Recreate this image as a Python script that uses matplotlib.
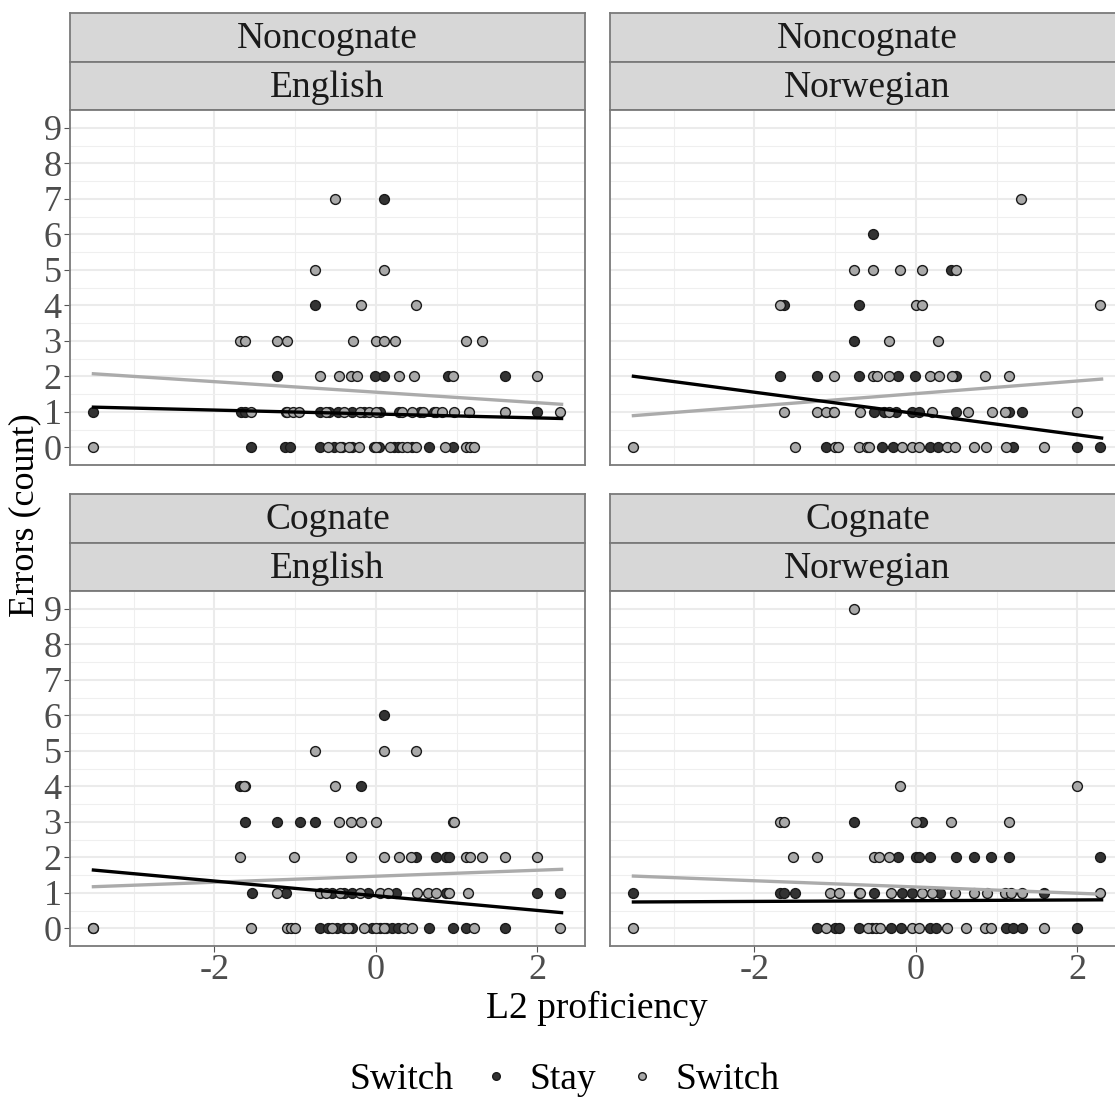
#!/usr/bin/env python3

import matplotlib
matplotlib.use("Agg")
import matplotlib.pyplot as plt
from matplotlib.lines import Line2D

plt.rcParams["font.family"] = ["Liberation Serif", "DejaVu Serif"]
plt.rcParams["axes.unicode_minus"] = False

# Errors per participant by L2 proficiency, split by trial type (Stay / Switch).
# Noncognate, English
nc_en_stay_x = [-1.55, -1.13, -1.06, -0.69, -0.52, -0.42, -0.30, -0.03, 0.04, 0.22, 0.27, 0.45, 0.66, 0.95,
                -3.5, -1.67, -1.62, -1.12, -0.69, -0.58, -0.47, -0.30, -0.15, 0.05, 0.28, 0.55, 0.72, 2.0,
                -1.23, -0.01, 0.10, 0.89, 1.60,
                -0.76,
                0.10]
nc_en_stay_y = [0] * 14 + [1] * 14 + [2] * 5 + [4] + [7]
nc_en_switch_x = [-3.5, -0.60, -0.45, -0.33, -0.21, 0.0, 0.18, 0.32, 0.38, 0.50, 0.85, 1.12, 1.17, 1.22,
                  -1.55, -1.10, -1.03, -0.95, -0.62, -0.40, -0.20, -0.08, 0.0, 0.32, 0.45, 0.58, 0.75, 0.82,
                  0.97, 1.15, 1.60, 2.28,
                  -0.69, -0.46, -0.31, -0.24, 0.28, 0.47, 0.95, 2.0,
                  -1.68, -1.62, -1.23, -1.10, -0.28, 0.0, 0.10, 0.24, 1.11, 1.32,
                  -0.18, 0.50,
                  -0.76, 0.10,
                  -0.51]
nc_en_switch_y = [0] * 14 + [1] * 18 + [2] * 8 + [3] * 10 + [4] * 2 + [5] * 2 + [7]

# Noncognate, Norwegian
nc_no_stay_x = [-1.11, -0.42, -0.29, 0.18, 0.27, 1.20, 1.99, 2.28,
                -1.03, -0.52, -0.40, -0.25, -0.05, 0.04, 0.50, 1.15, 1.31,
                -1.69, -1.23, -0.70, -0.22, -0.01, 0.50,
                -0.77,
                -1.63, -0.70,
                0.43,
                -0.53]
nc_no_stay_y = [0] * 8 + [1] * 9 + [2] * 6 + [3] + [4] * 2 + [5] + [6]
nc_no_switch_x = [-3.5, -1.50, -1.0, -0.96, -0.71, -0.61, -0.58, -0.17, -0.05, 0.04, 0.39, 0.48, 0.72, 0.87,
                  1.11, 1.59,
                  -1.63, -1.23, -1.11, -1.01, -0.69, -0.33, 0.20, 0.64, 0.94, 1.10, 2.0,
                  -1.01, -0.53, -0.48, -0.33, 0.18, 0.28, 0.45, 0.85, 1.15,
                  -0.33, 0.27,
                  -1.69, 0.0, 0.08, 2.28,
                  -0.77, -0.53, -0.20, 0.08, 0.50,
                  1.30]
nc_no_switch_y = [0] * 16 + [1] * 11 + [2] * 9 + [3] * 2 + [4] * 4 + [5] * 5 + [7]

# Cognate, English
co_en_stay_x = [-3.5, -0.69, -0.60, -0.48, -0.40, -0.30, -0.05, 0.05, 0.12, 0.20, 0.27, 0.66, 0.95, 1.12, 1.60,
                -1.54, -1.11, -0.55, -0.40, -0.30, -0.10, 0.25, 0.87, 2.0, 2.28,
                0.50, 0.75, 0.87, 0.91,
                -1.62, -1.23, -0.94, -0.76,
                -1.68, -1.62, -0.18,
                0.10]
co_en_stay_y = [0] * 15 + [1] * 10 + [2] * 4 + [3] * 4 + [4] * 3 + [6]
co_en_switch_x = [-3.5, -1.55, -1.10, -1.05, -1.0, -0.55, -0.35, -0.15, 0.0, 0.10, 0.35, 0.45, 1.22, 2.28,
                  -1.23, -0.69, -0.62, -0.45, -0.20, 0.05, 0.15, 0.51, 0.64, 0.75, 0.90, 1.14,
                  -1.68, -1.02, -0.31, 0.10, 0.28, 0.43, 1.12, 1.16, 1.32, 1.60, 2.0,
                  -0.46, -0.31, -0.19, 0.0, 0.95, 0.97,
                  -1.63, -0.51,
                  -0.76, 0.10, 0.50]
co_en_switch_y = [0] * 14 + [1] * 12 + [2] * 11 + [3] * 6 + [4] * 2 + [5] * 3

# Cognate, Norwegian
co_no_stay_x = [-1.23, -1.0, -0.95, -0.71, -0.55, -0.31, -0.19, 0.18, 0.25, 1.11, 1.20, 1.31, 2.0,
                -3.5, -1.69, -1.63, -1.50, -0.52, -0.17, -0.05, 0.30, 1.59,
                -0.22, 0.0, 0.04, 0.18, 0.50, 0.72, 0.93, 1.15, 2.28,
                -0.77, 0.08]
co_no_stay_y = [0] * 13 + [1] * 9 + [2] * 9 + [3] * 2
co_no_switch_x = [-3.5, -1.11, -0.60, -0.50, -0.45, -0.05, 0.04, 0.39, 0.62, 0.85, 0.93, 1.59,
                  -1.07, -0.95, -0.70, -0.69, -0.31, 0.08, 0.20, 0.48, 0.72, 0.88, 1.10, 1.18, 1.31, 2.28,
                  -1.52, -1.23, -0.52, -0.46, -0.33,
                  -1.69, -1.63, 0.0, 0.43, 1.15,
                  -0.20, 2.0,
                  -0.77]
co_no_switch_y = [0] * 12 + [1] * 14 + [2] * 5 + [3] * 5 + [4] * 2 + [9]

# Linear fits, evaluated at the ends of the proficiency range
fit_x = [-3.5, 2.3]
nc_en_fit = {"Stay": [1.13, 0.81], "Switch": [2.07, 1.21]}
nc_no_fit = {"Stay": [2.00, 0.26], "Switch": [0.89, 1.92]}
co_en_fit = {"Stay": [1.64, 0.44], "Switch": [1.17, 1.66]}
co_no_fit = {"Stay": [0.74, 0.80], "Switch": [1.47, 0.96]}

panels = [
    ("Noncognate", "English", nc_en_stay_x, nc_en_stay_y, nc_en_switch_x, nc_en_switch_y, nc_en_fit),
    ("Noncognate", "Norwegian", nc_no_stay_x, nc_no_stay_y, nc_no_switch_x, nc_no_switch_y, nc_no_fit),
    ("Cognate", "English", co_en_stay_x, co_en_stay_y, co_en_switch_x, co_en_switch_y, co_en_fit),
    ("Cognate", "Norwegian", co_no_stay_x, co_no_stay_y, co_no_switch_x, co_no_switch_y, co_no_fit),
]

fill = {"Stay": "#333333", "Switch": "#A9A9A9"}
line_col = {"Stay": "#000000", "Switch": "#ABABAB"}
border = "#7A7A7A"

W, H = 1115, 1099
fig = plt.figure(figsize=(W / 100, H / 100), dpi=100)


def box(x0, y0, w, h):
    # pixel box (top-left origin) -> figure fraction rect
    return [x0 / W, 1 - (y0 + h) / H, w / W, h / H]


def strip(x0, y0, w, h, text):
    sax = fig.add_axes(box(x0, y0, w, h))
    sax.set_facecolor("#D7D7D7")
    sax.set_xticks([])
    sax.set_yticks([])
    for s in sax.spines.values():
        s.set_color(border)
        s.set_linewidth(1.3)
    sax.text(0.5, 0.47, text, ha="center", va="center", fontsize=27, color="#1A1A1A",
             transform=sax.transAxes)


col_x = [70, 610]
row_y = [13, 494]
pw = 515

for i, (top, sub, sx, sy, wx, wy, fit) in enumerate(panels):
    r, c = divmod(i, 2)
    x0 = col_x[c]
    y0 = row_y[r]
    strip(x0, y0, pw, 49, top)
    strip(x0, y0 + 49, pw, 48, sub)
    ax = fig.add_axes(box(x0, y0 + 97, pw, 355))

    ax.set_xlim(-3.79, 2.59)
    ax.set_ylim(-0.45, 9.45)
    ax.set_xticks([-2, 0, 2])
    ax.set_xticks([-3, -1, 1], minor=True)
    ax.set_yticks(range(10))
    ax.set_yticks([v + 0.5 for v in range(-1, 10)], minor=True)
    ax.grid(which="major", color="#EBEBEB", linewidth=1.5)
    ax.grid(which="minor", color="#EFEFEF", linewidth=0.8)
    ax.set_axisbelow(True)
    ax.tick_params(which="minor", length=0)
    ax.tick_params(which="major", length=4, color="#555555", labelsize=26,
                   labelcolor="#4D4D4D", pad=2)
    for s in ax.spines.values():
        s.set_color(border)
        s.set_linewidth(1.3)
    if r == 0:
        ax.tick_params(axis="x", labelbottom=False, length=0)
    if c == 1:
        ax.tick_params(axis="y", labelleft=False, length=0)

    ax.scatter(sx, sy, s=50, c=fill["Stay"], edgecolors="#1A1A1A", linewidths=1.0, zorder=3)
    ax.scatter(wx, wy, s=50, c=fill["Switch"], edgecolors="#1A1A1A", linewidths=1.0, zorder=3)
    ax.plot(fit_x, fit["Switch"], color=line_col["Switch"], linewidth=2.4, zorder=4)
    ax.plot(fit_x, fit["Stay"], color=line_col["Stay"], linewidth=2.4, zorder=4)

fig.text(597 / W, 1 - 1008 / H, "L2 proficiency", ha="center", va="center", fontsize=27)
fig.text(25 / W, 1 - 515 / H, "Errors (count)", ha="center", va="center", rotation=90, fontsize=26)

handles = [Line2D([], [], linestyle="none", marker="o", markersize=5.5,
                  markerfacecolor=fill[k], markeredgecolor="#1A1A1A") for k in ["Stay", "Switch"]]
fig.text(402 / W, 1 - 1080 / H, "Switch", ha="center", va="center", fontsize=27)
fig.legend(handles, ["Stay", "Switch"], loc="center", bbox_to_anchor=(632 / W, 1 - 1080 / H),
           ncol=2, frameon=False, fontsize=27, handlelength=0.6, handletextpad=0.6,
           columnspacing=0.92)

fig.savefig("out.png", dpi=100)
